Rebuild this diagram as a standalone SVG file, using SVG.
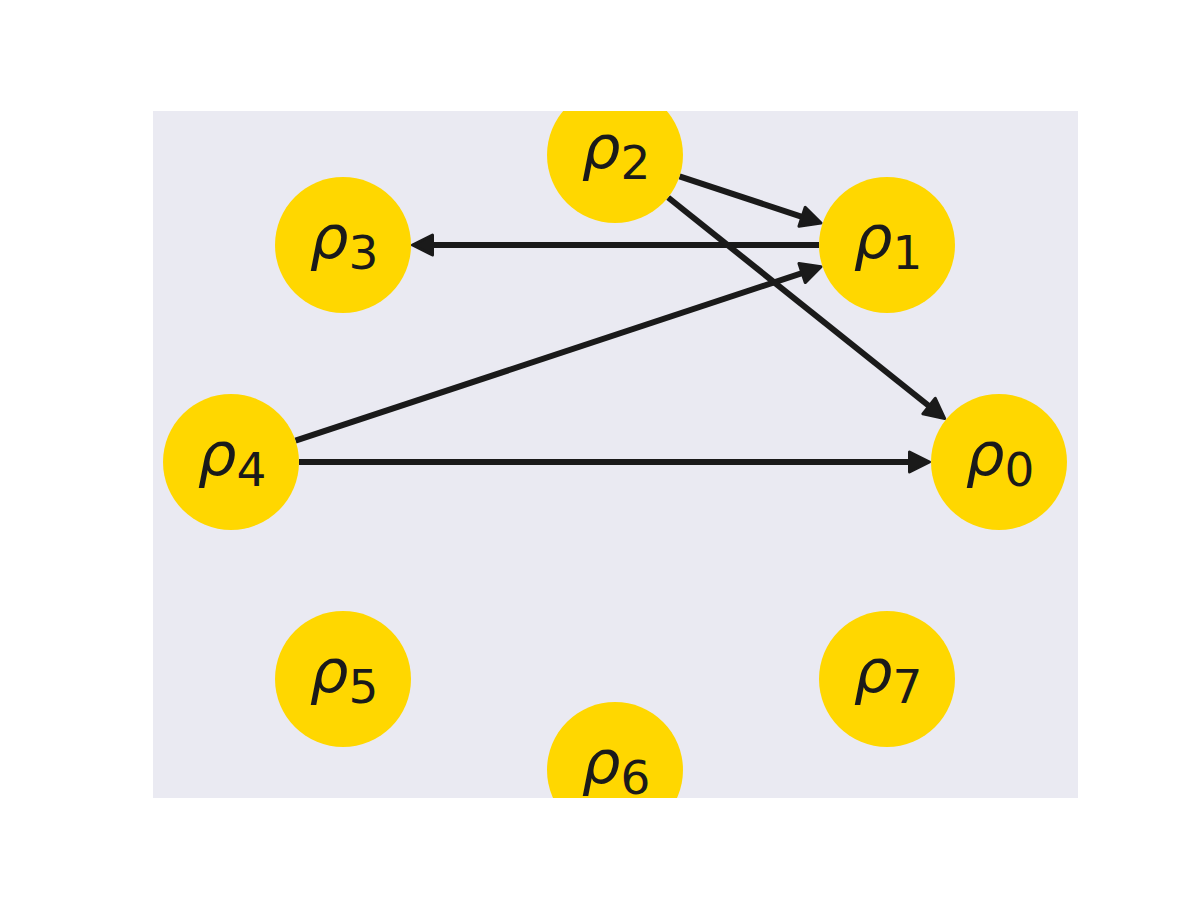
<svg xmlns="http://www.w3.org/2000/svg" width="1200" height="900" viewBox="0 0 1200 900">
  <defs>
    <clipPath id="axes"><rect x="153" y="111" width="925" height="687"/></clipPath>
    <marker id="head" markerUnits="userSpaceOnUse" markerWidth="36" markerHeight="36" viewBox="-30 -18 36 36" refX="-12" refY="0" orient="auto">
      <path d="M-1.5,0 L-21.5,-10 L-21.5,10 Z" fill="#1a1a1a" stroke="#1a1a1a" stroke-width="3" stroke-linejoin="round"/>
    </marker>
  </defs>
  <style>
    .node circle { fill: #FFD700; }
    .node text { font-family: "DejaVu Sans", sans-serif; font-style: italic; fill: #1a1a1a; text-anchor: middle; }
    .node .r { font-size: 61px; }
    .node .s { font-size: 47px; font-style: normal; }
    .edge { stroke: #1a1a1a; stroke-width: 6; fill: none; marker-end: url(#head); }
  </style>
  <rect x="0" y="0" width="1200" height="900" fill="#ffffff"/>
  <rect x="153" y="111" width="925" height="687" fill="#EAEAF2"/>
  <g id="connectors">
    <line class="edge" x1="679.5" y1="176.4" x2="811.1" y2="219.8"/>
    <line class="edge" x1="819" y1="245" x2="423" y2="245"/>
    <line class="edge" x1="295.5" y1="440.7" x2="811.1" y2="270.1"/>
    <line class="edge" x1="668.1" y1="197.5" x2="936.5" y2="412.0"/>
    <line class="edge" x1="299" y1="462" x2="919" y2="462"/>
  </g>
  <g clip-path="url(#axes)">
    <g id="n0" class="node"><circle cx="999" cy="462" r="68"/><text x="1000" y="474.5"><tspan class="r">ρ</tspan><tspan class="s" dy="11.5">0</tspan></text></g>
    <g id="n1" class="node"><circle cx="887" cy="245" r="68"/><text x="888" y="257.5"><tspan class="r">ρ</tspan><tspan class="s" dy="11.5">1</tspan></text></g>
    <g id="n2" class="node"><circle cx="615" cy="155" r="68"/><text x="616" y="167.5"><tspan class="r">ρ</tspan><tspan class="s" dy="11.5">2</tspan></text></g>
    <g id="n3" class="node"><circle cx="343" cy="245" r="68"/><text x="344" y="257.5"><tspan class="r">ρ</tspan><tspan class="s" dy="11.5">3</tspan></text></g>
    <g id="n4" class="node"><circle cx="231" cy="462" r="68"/><text x="232" y="474.5"><tspan class="r">ρ</tspan><tspan class="s" dy="11.5">4</tspan></text></g>
    <g id="n5" class="node"><circle cx="343" cy="679" r="68"/><text x="344" y="691.5"><tspan class="r">ρ</tspan><tspan class="s" dy="11.5">5</tspan></text></g>
    <g id="n6" class="node"><circle cx="615" cy="770" r="68"/><text x="616" y="782.5"><tspan class="r">ρ</tspan><tspan class="s" dy="11.5">6</tspan></text></g>
    <g id="n7" class="node"><circle cx="887" cy="679" r="68"/><text x="888" y="691.5"><tspan class="r">ρ</tspan><tspan class="s" dy="11.5">7</tspan></text></g>
  </g>
</svg>
